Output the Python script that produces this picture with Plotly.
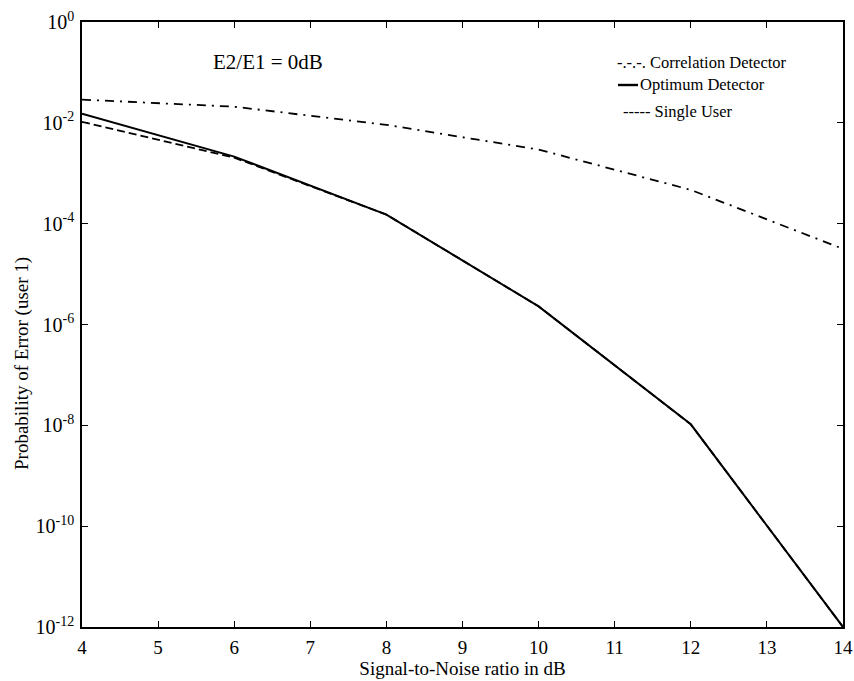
import plotly.graph_objects as go

# Signal-to-noise ratio (dB) at which each curve is evaluated
snr_db = [4, 6, 8, 10, 12, 14]

# Bit error probability for user 1 (log10 values)
log_pe_correlation = [-1.54, -1.68, -2.04, -2.53, -3.33, -4.50]
log_pe_optimum = [-1.82, -2.67, -3.82, -5.64, -7.98, -12.0]
log_pe_single_user = [-1.98, -2.69, -3.82, -5.64, -7.98, -12.0]

y_tick_exponents = [0, -2, -4, -6, -8, -10, -12]
x_ticks = list(range(4, 15))

FONT = "Liberation Serif"

pe_corr = [10 ** v for v in log_pe_correlation]
pe_opt = [10 ** v for v in log_pe_optimum]
pe_single = [10 ** v for v in log_pe_single_user]

fig = go.Figure()
fig.add_trace(go.Scatter(x=snr_db, y=pe_single, mode="lines",
                         line=dict(color="black", width=1.8, dash="8px,4px"),
                         name="Single User"))
fig.add_trace(go.Scatter(x=snr_db, y=pe_corr, mode="lines",
                         line=dict(color="black", width=1.8, dash="9px,6px,2px,6px"),
                         name="Correlation Detector"))
fig.add_trace(go.Scatter(x=snr_db, y=pe_opt, mode="lines",
                         line=dict(color="black", width=2),
                         name="Optimum Detector"))

axis_common = dict(showline=True, linecolor="black", linewidth=1.5, mirror="ticks",
                   ticks="inside", ticklen=6, tickwidth=1.3, tickcolor="black",
                   showgrid=False, zeroline=False, automargin=False)

fig.update_xaxes(range=[4, 14], tickvals=x_ticks, ticktext=[str(t) for t in x_ticks],
                 ticklabelstandoff=2,
                 tickfont=dict(family=FONT, size=19, color="black"),
                 title=dict(text="Signal-to-Noise ratio in dB",
                            font=dict(family=FONT, size=19, color="black"), standoff=0),
                 **axis_common)
fig.update_yaxes(type="log", range=[-12, 0],
                 tickvals=[10 ** e for e in y_tick_exponents],
                 ticktext=[f"10<sup>{'-' if e < 0 else ''}{abs(e)}</sup>" for e in y_tick_exponents],
                 tickfont=dict(family=FONT, size=20, color="black"),
                 ticklabelstandoff=2,
                 **axis_common)


def paper_y(px):
    """Convert a pixel row inside the figure to paper coordinates of the plot area."""
    top, bottom = 22, 681 - 54
    return 1 - (px - top) / (bottom - top)


def paper_x(px):
    left, right = 82, 854 - 11
    return (px - left) / (right - left)


# Rotated y-axis caption
fig.add_annotation(text="Probability of Error (user 1)", xref="paper", yref="paper",
                   x=paper_x(22), y=paper_y(364), xanchor="center", yanchor="middle",
                   textangle=-90, showarrow=False,
                   font=dict(family=FONT, size=19, color="black"))

# Parameter note
fig.add_annotation(text="E2/E1 = 0dB", xref="paper", yref="paper",
                   x=paper_x(211), y=paper_y(62), xanchor="left", yanchor="middle",
                   showarrow=False, font=dict(family=FONT, size=21, color="black"))

# Hand-drawn style key
key_font = dict(family=FONT, size=16.5, color="black")
fig.add_annotation(text="-.-.-. Correlation Detector", xref="paper", yref="paper",
                   x=paper_x(615), y=paper_y(63), xanchor="left", yanchor="middle",
                   showarrow=False, font=key_font)
fig.add_annotation(text="Optimum Detector", xref="paper", yref="paper",
                   x=paper_x(638), y=paper_y(85), xanchor="left", yanchor="middle",
                   showarrow=False, font=key_font)
fig.add_shape(type="line", xref="paper", yref="paper",
              x0=paper_x(618), x1=paper_x(638), y0=paper_y(85), y1=paper_y(85),
              line=dict(color="black", width=2.4))
fig.add_annotation(text="----- Single User", xref="paper", yref="paper",
                   x=paper_x(621), y=paper_y(112), xanchor="left", yanchor="middle",
                   showarrow=False, font=key_font)

fig.update_layout(width=854, height=681, plot_bgcolor="white", paper_bgcolor="white",
                  margin=dict(l=82, r=11, t=22, b=54), showlegend=False)

fig.write_html("out.html")
